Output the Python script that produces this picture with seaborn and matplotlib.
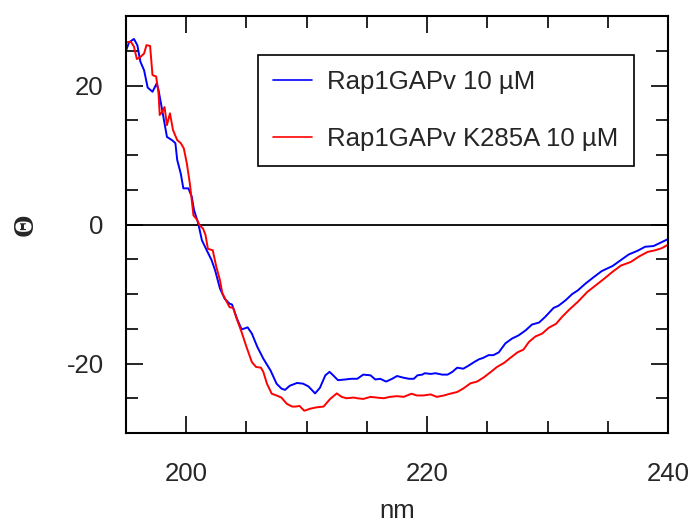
import numpy as np
import pandas as pd
import matplotlib
matplotlib.use("Agg")
import matplotlib.pyplot as plt
from matplotlib.ticker import MultipleLocator
import seaborn as sns

# ---- data ----
wl_wt = [195.0, 195.25, 195.66, 195.94, 196.2, 196.5, 196.8, 197.2, 197.55, 197.7,
         198.0, 198.4, 198.85, 199.1, 199.25, 199.55, 199.76, 200.18, 200.46, 200.65,
         201.0, 201.3, 201.7, 202.1, 202.4, 202.8, 203.2, 203.6, 203.8, 204.2,
         204.6, 205.1, 205.45, 205.9, 206.4, 207.0, 207.5, 207.9, 208.2, 208.6,
         209.2, 209.7, 210.15, 210.7, 211.1, 211.55, 211.9, 212.2, 212.6, 213.2,
         213.7, 214.2, 214.7, 215.3, 215.7, 216.1, 216.6, 217.1, 217.5, 218.05,
         218.5, 218.9, 219.2, 219.6, 219.8, 220.3, 220.7, 221.25, 221.7, 222.1,
         222.5, 223.0, 223.45, 223.9, 224.3, 224.65, 225.1, 225.5, 225.95, 226.5,
         227.06, 227.6, 228.2, 228.7, 229.3, 229.8, 230.5, 230.9, 231.5, 232.05,
         232.5, 233.15, 233.85, 234.5, 235.4, 236.1, 236.75, 237.45, 238.1, 238.8,
         239.4, 240.0]
theta_wt = [25.0, 26.2, 26.7, 25.8, 23.4, 22.2, 19.7, 19.1, 20.3, 19.35,
            16.5, 12.6, 12.1, 11.7, 9.3, 7.3, 5.2, 5.2, 4.0, 2.06,
            0.14, -2.26, -3.7, -5.1, -6.6, -9.2, -10.7, -11.4, -11.5, -13.5,
            -15.1, -14.8, -15.7, -17.6, -19.3, -21.0, -22.9, -23.6, -23.8, -23.2,
            -22.8, -22.9, -23.3, -24.3, -23.5, -21.7, -21.2, -21.7, -22.4, -22.3,
            -22.2, -22.2, -21.6, -21.7, -22.3, -22.2, -22.6, -22.2, -21.8, -22.05,
            -22.2, -22.2, -21.7, -21.6, -21.4, -21.5, -21.4, -21.6, -21.6, -21.2,
            -20.6, -20.75, -20.3, -19.8, -19.4, -19.2, -18.8, -18.8, -18.4, -17.1,
            -16.4, -15.95, -15.2, -14.4, -14.1, -13.3, -12.0, -11.7, -10.9, -10.0,
            -9.5, -8.5, -7.55, -6.7, -5.97, -5.1, -4.3, -3.8, -3.2, -3.1,
            -2.6, -2.1]

wl_mut = [195.0, 195.4, 195.66, 195.9, 196.2, 196.5, 196.7, 197.0, 197.2, 197.5,
          197.7, 197.8, 198.0, 198.2, 198.4, 198.65, 198.9, 199.25, 199.55, 199.8,
          200.05, 200.3, 200.46, 200.6, 200.9, 201.1, 201.4, 201.6, 201.8, 202.2,
          202.5, 202.8, 203.0, 203.3, 203.6, 203.9, 204.2, 204.6, 205.0, 205.45,
          205.8, 206.2, 206.4, 206.7, 207.1, 207.5, 207.9, 208.35, 208.8, 209.1,
          209.4, 209.8, 210.3, 210.85, 211.4, 211.95, 212.5, 212.9, 213.3, 213.9,
          214.2, 214.7, 215.3, 215.8, 216.4, 216.9, 217.5, 218.05, 218.7, 219.15,
          219.7, 220.3, 220.8, 221.4, 221.9, 222.5, 223.0, 223.6, 224.15, 224.7,
          225.3, 225.8, 226.4, 226.9, 227.5, 228.0, 228.45, 229.0, 229.55, 230.1,
          230.7, 231.2, 231.8, 232.5, 233.3, 234.0, 234.7, 235.4, 236.1, 236.9,
          237.6, 238.3, 238.95, 239.5, 240.0]
theta_mut = [26.2, 26.3, 25.6, 23.8, 24.1, 24.6, 25.8, 25.7, 21.5, 21.3,
             18.9, 15.75, 16.2, 16.9, 14.3, 16.0, 13.6, 12.15, 11.7, 10.95,
             8.8, 5.9, 3.5, 1.3, 0.7, -0.1, -0.6, -1.5, -3.5, -3.7,
             -6.1, -8.0, -9.9, -10.9, -11.9, -12.0, -13.6, -15.5, -17.6, -19.8,
             -20.5, -20.6, -21.2, -22.9, -24.35, -24.6, -24.9, -25.8, -26.2, -26.2,
             -26.1, -26.8, -26.5, -26.3, -26.2, -25.1, -24.3, -24.8, -25.0, -24.9,
             -25.0, -25.1, -24.8, -24.9, -25.0, -24.8, -24.7, -24.8, -24.35, -24.6,
             -24.6, -24.45, -24.8, -24.6, -24.35, -24.1, -23.6, -22.85, -22.6, -22.0,
             -21.2, -20.5, -19.9, -19.2, -18.4, -18.0, -16.9, -16.1, -15.7, -14.85,
             -14.3, -13.3, -12.25, -11.15, -9.7, -8.75, -7.8, -6.8, -5.9, -5.4,
             -4.6, -3.95, -3.7, -3.4, -2.9]

series_labels = ["Rap1GAPv 10 µM", "Rap1GAPv K285A 10 µM"]
series_colors = ["#0000ff", "#ff0000"]
x_ticks = [200, 220, 240]
y_ticks = [-20, 0, 20]

# ---- build a long table ----
df = pd.concat([
    pd.DataFrame({"nm": wl_wt, "theta": theta_wt, "sample": series_labels[0]}),
    pd.DataFrame({"nm": wl_mut, "theta": theta_mut, "sample": series_labels[1]}),
], ignore_index=True)

sns.set_style("ticks")
plt.rcParams['font.family'] = ['Liberation Sans', 'DejaVu Sans']
plt.rcParams['axes.unicode_minus'] = False

FS = 18.5
W, H = 689, 524
fig = plt.figure(figsize=(W / 100, H / 100), dpi=100)
ax = fig.add_axes([126 / W, 1 - 433 / H, (668 - 126) / W, (433 - 16) / H])

sns.lineplot(data=df, x="nm", y="theta", hue="sample", hue_order=series_labels,
             palette=series_colors, estimator=None, sort=False, linewidth=1.4,
             ax=ax, legend=False)
ax.axhline(0, color="black", linewidth=1.3, zorder=1)

ax.set_xlim(195, 240)
ax.set_ylim(-30, 30)
ax.set_xticks(x_ticks)
ax.set_yticks(y_ticks)
ax.xaxis.set_minor_locator(MultipleLocator(5))
ax.yaxis.set_minor_locator(MultipleLocator(5))
ax.tick_params(which="both", direction="in", top=True, right=True, width=1.2,
               color="black")
ax.tick_params(which="major", length=12.5, labelsize=FS)
ax.tick_params(which="minor", length=8.5)
ax.tick_params(axis="x", which="major", pad=21)
ax.tick_params(axis="y", which="major", pad=16)
for s in ax.spines.values():
    s.set_linewidth(1.5)
    s.set_color("black")

ax.set_xlabel("nm", fontsize=FS, labelpad=9)
ax.set_ylabel("Θ", fontsize=21, fontweight="bold", family=["Liberation Serif", "DejaVu Serif"],
              labelpad=20)

handles = [plt.Line2D([], [], color=c, linewidth=1.2) for c in series_colors]
leg = ax.legend(handles, series_labels, loc="upper left",
                bbox_to_anchor=(258 / W, 1 - 55 / H), bbox_transform=fig.transFigure,
                frameon=True, fancybox=False, framealpha=1, edgecolor="black",
                fontsize=FS, handlelength=1.5, handletextpad=0.6, borderpad=0.6,
                labelspacing=1.25, borderaxespad=0)
leg.get_frame().set_linewidth(1.2)

fig.savefig("out.png", dpi=100)
